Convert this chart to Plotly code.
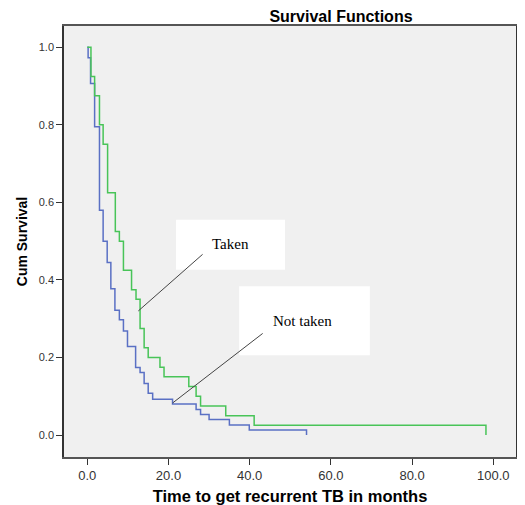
import plotly.graph_objects as go

# Data
taken_time = [0, 0.9, 1.8, 3.0, 3.9, 5.0, 6.9, 7.9, 8.9, 10.9, 12.0, 13.0, 14.0, 15.0,
              17.9, 18.9, 25.0, 26.8, 27.9, 34.1, 41.1, 98.2]
taken_surv = [1.0, 0.925, 0.875, 0.8, 0.75, 0.625, 0.525, 0.5, 0.425, 0.375, 0.35, 0.275,
              0.225, 0.2, 0.175, 0.15, 0.125, 0.1, 0.075, 0.05, 0.025, 0.0]

not_taken_time = [0, 0.2, 0.8, 1.8, 3.0, 3.9, 4.9, 5.8, 6.8, 7.9, 8.9, 9.9, 11.9, 13.0,
                  14.0, 15.0, 16.1, 21.0, 26.8, 27.9, 30.0, 35.0, 39.9, 54.0]
not_taken_surv = [1.0, 0.973, 0.907, 0.795, 0.58, 0.5, 0.445, 0.377, 0.322, 0.297, 0.268,
                  0.228, 0.174, 0.161, 0.133, 0.108, 0.092, 0.08, 0.066, 0.053, 0.04,
                  0.026, 0.013, 0.0]

x_ticks = [0, 20, 40, 60, 80, 100]
y_ticks = [0.0, 0.2, 0.4, 0.6, 0.8, 1.0]

BLUE = "#5a70c4"
GREEN = "#48c458"

# The page body adds an 8px offset, so the figure is sized to the remaining window.
W, H = 517, 497

fig = go.Figure()
fig.add_trace(go.Scatter(x=not_taken_time, y=not_taken_surv, mode="lines",
                         line=dict(shape="hv", color=BLUE, width=1.5), name="Not taken"))
fig.add_trace(go.Scatter(x=taken_time, y=taken_surv, mode="lines",
                         line=dict(shape="hv", color=GREEN, width=1.5), name="Taken"))

# Callout boxes and pointer lines
shapes = [
    dict(type="rect", xref="x", yref="y", x0=21.85, x1=48.7, y0=0.426, y1=0.555,
         fillcolor="white", line=dict(width=0), layer="below"),
    dict(type="rect", xref="x", yref="y", x0=37.4, x1=69.6, y0=0.206, y1=0.384,
         fillcolor="white", line=dict(width=0), layer="below"),
    dict(type="line", xref="x", yref="y", x0=28.4, y0=0.466, x1=12.56, y1=0.320,
         line=dict(color="#444", width=1)),
    dict(type="line", xref="x", yref="y", x0=43.2, y0=0.262, x1=21.0, y1=0.0825,
         line=dict(color="#444", width=1)),
    # clipped legend markers at the right edge
    dict(type="line", xref="paper", yref="paper", x0=1.008, x1=1.03, y0=0.912, y1=0.912,
         line=dict(color="#8a9ad8", width=2)),
    dict(type="line", xref="paper", yref="paper", x0=1.008, x1=1.03, y0=0.879, y1=0.879,
         line=dict(color=GREEN, width=2)),
]

annotations = [
    dict(x=35.3, y=0.493, xref="x", yref="y", text="Taken", showarrow=False,
         font=dict(family="Liberation Serif", size=15, color="black")),
    dict(x=53.1, y=0.293, xref="x", yref="y", text="Not taken", showarrow=False,
         font=dict(family="Liberation Serif", size=15, color="black")),
]

fig.update_layout(
    width=W, height=H,
    margin=dict(l=56, r=9, t=18, b=48),
    paper_bgcolor="white",
    plot_bgcolor="#f0f0f0",
    showlegend=False,
    font=dict(family="Liberation Sans", size=11, color="#333"),
    title=dict(text="<b>Survival Functions</b>", x=333 / W, xanchor="center",
               xref="container", y=1 - 8 / H, yanchor="middle",
               font=dict(family="Liberation Sans", size=16, color="black")),
    shapes=shapes,
    annotations=annotations,
)

fig.update_xaxes(range=[-5.74, 105.6], tickvals=x_ticks,
                 ticktext=[f"{v:.1f}" for v in x_ticks], automargin=False,
                 tickfont=dict(size=13, color="#333"),
                 ticks="outside", ticklen=6, tickcolor="#333", showgrid=False, zeroline=False,
                 showline=True, linecolor="#555", linewidth=1.5, mirror=True,
                 title=dict(text="<b>Time to get recurrent TB in months</b>",
                            font=dict(family="Liberation Sans", size=16.5, color="black"),
                            standoff=12))
fig.update_yaxes(range=[-0.0567, 1.055], tickvals=y_ticks,
                 ticktext=[f"{v:.1f}" for v in y_ticks], automargin=False,
                 tickfont=dict(size=11, color="#333"),
                 ticks="outside", ticklen=6, tickcolor="#333", showgrid=False, zeroline=False,
                 showline=True, linecolor="#333", linewidth=1.5, mirror=True,
                 title=dict(text="<b>Cum Survival</b>",
                            font=dict(family="Liberation Sans", size=14, color="black"),
                            standoff=8))

fig.write_html("out.html")
